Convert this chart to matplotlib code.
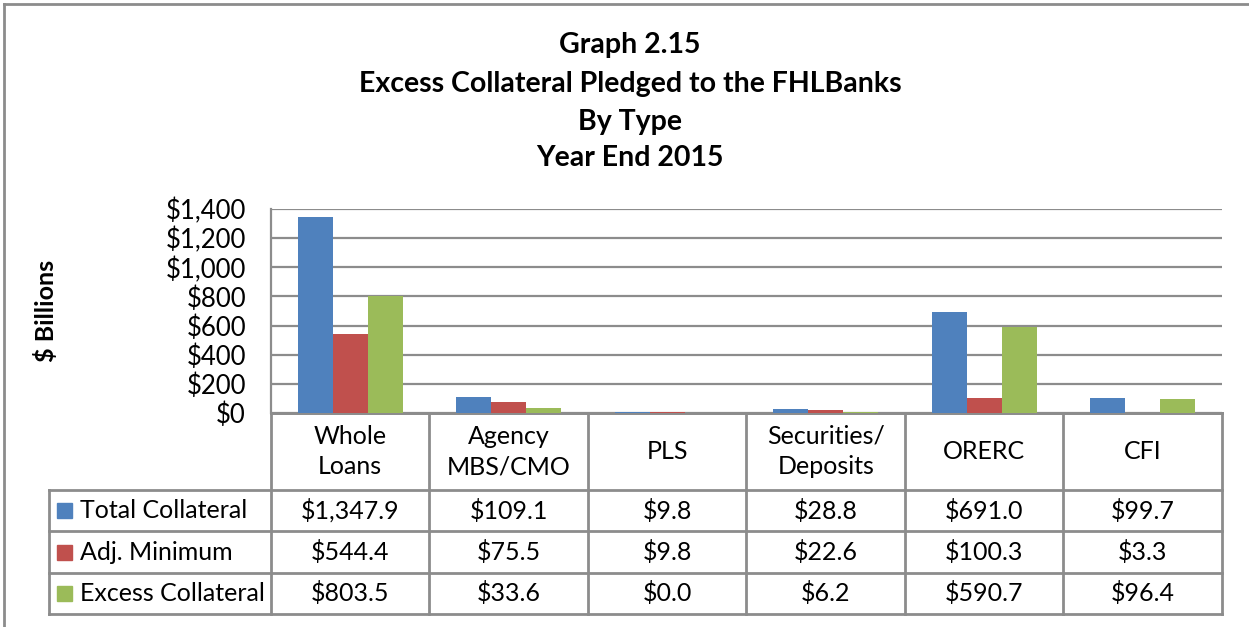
import matplotlib.pyplot as plt
import numpy as np

plt.rcParams['font.family'] = ['Lato', 'DejaVu Sans']

# data
categories = ["Whole\nLoans", "Agency\nMBS/CMO", "PLS", "Securities/\nDeposits", "ORERC", "CFI"]
series_names = ["Total Collateral", "Adj. Minimum", "Excess Collateral"]
total_collateral = [1347.9, 109.1, 9.8, 28.8, 691.0, 99.7]
adj_minimum = [544.4, 75.5, 9.8, 22.6, 100.3, 3.3]
excess_collateral = [803.5, 33.6, 0.0, 6.2, 590.7, 96.4]
y_ticks = [0, 200, 400, 600, 800, 1000, 1200, 1400]
title_lines = ["Graph 2.15", "Excess Collateral Pledged to the FHLBanks", "By Type", "Year End 2015"]

colors = ["#4F81BD", "#C0504D", "#9BBB59"]
line_col = "#8C8C8C"

W, H = 1249, 627
fig = plt.figure(figsize=(W / 100, H / 100), dpi=100)

# layout in pixels
px_left, px_right = 271, 1222
px_top, px_bottom = 209, 413
row_edges = [413, 490, 531, 573, 614]
tab_left = 49

ax = fig.add_axes([px_left / W, 1 - px_bottom / H, (px_right - px_left) / W, (px_bottom - px_top) / H])
series = [total_collateral, adj_minimum, excess_collateral]
x = np.arange(len(categories))
bw = 0.221
for i, vals in enumerate(series):
    ax.bar(x + (i - 1) * bw, vals, width=bw, color=colors[i], zorder=3)

ax.set_xlim(-0.5, len(categories) - 0.5)
ax.set_ylim(0, 1400)
ax.set_yticks(y_ticks)
ax.set_yticklabels(["${:,}".format(t) for t in y_ticks], fontsize=18.5)
ax.set_xticks([])
ax.tick_params(axis='y', length=0, pad=18)
ax.yaxis.grid(True, color=line_col, linewidth=1.6, zorder=0)
for s in ["top", "right"]:
    ax.spines[s].set_visible(False)
ax.spines["left"].set_color(line_col)
ax.spines["left"].set_linewidth(1.6)
ax.spines["bottom"].set_color(line_col)
ax.spines["bottom"].set_linewidth(2)
ax.set_ylabel("$ Billions", fontsize=18, fontweight="bold", labelpad=0)
ax.yaxis.set_label_coords((58 - px_left) / (px_right - px_left), 0.5)

# overlay for border, title and data table
ov = fig.add_axes([0, 0, 1, 1], zorder=-1)
ov.set_xlim(0, W)
ov.set_ylim(H, 0)
ov.axis("off")

ov.plot([4, 4], [4, H], color=line_col, lw=2)
ov.plot([4, W], [4, 4], color=line_col, lw=2)

title_y = [45, 84, 122, 158]
for t, yy in zip(title_lines, title_y):
    ov.text(630, yy, t, ha="center", va="center", fontsize=20.5, fontweight="bold")

col_w = (px_right - px_left) / len(categories)
col_edges = [px_left + i * col_w for i in range(len(categories) + 1)]

for k, yy in enumerate(row_edges):
    x0 = px_left if k == 0 else tab_left
    ov.plot([x0, px_right], [yy, yy], color=line_col, lw=2)
for xx in col_edges:
    ov.plot([xx, xx], [row_edges[0], row_edges[-1]], color=line_col, lw=2)
ov.plot([tab_left, tab_left], [row_edges[1], row_edges[-1]], color=line_col, lw=2)

for j, cat in enumerate(categories):
    cx = (col_edges[j] + col_edges[j + 1]) / 2
    ov.text(cx, (row_edges[0] + row_edges[1]) / 2, cat, ha="center", va="center",
            fontsize=18, linespacing=1.4)

for i, (name, vals) in enumerate(zip(series_names, series)):
    cy = (row_edges[i + 1] + row_edges[i + 2]) / 2
    ov.add_patch(plt.Rectangle((57, cy - 7.5), 15, 15, color=colors[i]))
    ov.text(80, cy, name, ha="left", va="center", fontsize=18)
    for j, v in enumerate(vals):
        cx = (col_edges[j] + col_edges[j + 1]) / 2
        ov.text(cx, cy, "${:,.1f}".format(v), ha="center", va="center", fontsize=18)

fig.savefig("out.png", dpi=100)
